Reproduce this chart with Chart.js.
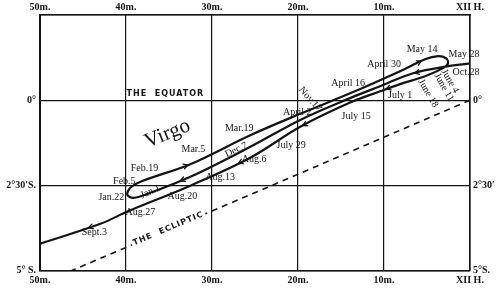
<!DOCTYPE html>
<html><head><meta charset="utf-8">
<script src="https://cdn.jsdelivr.net/npm/chart.js@4.4.1/dist/chart.umd.min.js"></script>
<style>html,body{margin:0;padding:0;background:#fff;}#wrap{width:500px;height:290px;}</style>
</head><body><div id="wrap"><canvas id="c" width="500" height="290"></canvas></div>
<script>
// Axis ticks (x: minutes of right ascension past XII h, increasing to the left; y: declination in degrees)
const raTicks = [0, 10, 20, 30, 40, 50];
const raTickLabels = ['XII H.', '10m.', '20m.', '30m.', '40m.', '50m.'];
const decTicks = [2.5, 0, -2.5, -5];
const decLeftLabels = ['', '0°', '2°30′S.', '5° S.'];
const decRightLabels = ['', '0°', '2°30′', '5°S.'];

// Planet path: Oct.28 -> Jan.22 (stationary) -> May 28 (stationary) -> Sept.3
const pathRA  = [0.00, 2.67, 6.62, 10.45, 13.94, 19.74, 25.55, 32.52, 37.17, 39.14,
                 39.84, 39.49, 38.10, 32.52, 25.55, 19.74, 13.94, 8.13, 5.23, 3.72, 2.79, 2.56, 3.14,
                 5.23, 8.13, 10.45, 13.94, 19.74, 25.55, 32.52, 39.84, 42.97, 49.94];
const pathDec = [1.08, 0.99, 0.79, 0.41, 0.06, -0.58, -1.37, -2.25, -2.72, -2.87,
                 -2.78, -2.57, -2.37, -1.88, -1.03, -0.40, 0.20, 0.85, 1.20, 1.29, 1.23, 1.08, 0.94,
                 0.70, 0.47, 0.26, -0.07, -0.78, -1.69, -2.51, -3.27, -3.63, -4.21];

// Direction arrows: segment index along the path and fraction along it
const arrowSeg = [1, 7, 12, 17, 24, 26, 28, 31];
const arrowFrac = [0.95, 0.25, 0.95, 0.85, 0.7, 0.95, 0.2, 0.2];

// The ecliptic
const eclipticRA  = [0, 23, 46.3];
const eclipticDec = [0, -2.5, -5];

// Date labels
const dateText = ['Mar.5', 'Mar.19', 'Feb.19', 'Feb.5', 'Jan.22', 'Jan.1', 'Aug.20', 'Aug.27', 'Sept.3',
                  'Aug.13', 'Aug.6', 'Dec.7', 'July 29', 'April 2', 'Nov.17', 'July 15', 'April 16',
                  'July 1', 'April 30', 'May 14', 'May 28', 'Oct.28', 'June 4', 'June 11', 'June 18'];
const dateRA  = [32.17, 26.83, 37.86, 40.19, 41.70, 37.17, 33.45, 38.33, 43.67,
                 29.04, 25.09, 27.18, 20.79, 20.09, 18.58, 13.24, 14.17,
                 8.13, 9.99, 5.57, 0.70, 0.46, 2.32, 3.02, 4.88];
const dateDec = [-1.43, -0.82, -1.99, -2.37, -2.84, -2.69, -2.81, -3.30, -3.89,
                 -2.28, -1.73, -1.46, -1.32, -0.35, 0.03, -0.47, 0.50,
                 0.15, 1.05, 1.49, 1.35, 0.82, 0.56, 0.38, 0.20];
const dateRot = [0, 0, 0, 0, 0, -24, 0, 0, 0,
                 0, 0, -25, 0, 0, 48, 0, 0,
                 0, 0, 0, 0, 0, 60, 60, 60];

const BLACK = '#141414';

const annot = {
  id: 'annot',
  afterDatasetsDraw(chart) {
    const ctx = chart.ctx, xs = chart.scales.x, ys = chart.scales.y;
    // arrows
    const meta = chart.getDatasetMeta(0);
    ctx.save();
    ctx.strokeStyle = BLACK; ctx.lineWidth = 1.3; ctx.lineCap = 'round';
    arrowSeg.forEach((s, k) => {
      const p0 = meta.data[s], p1 = meta.data[s + 1];
      const t = arrowFrac[k];
      const x = p0.x + (p1.x - p0.x) * t, y = p0.y + (p1.y - p0.y) * t;
      const a = Math.atan2(p1.y - p0.y, p1.x - p0.x);
      const L = 5, w = 0.5;
      ctx.beginPath();
      ctx.moveTo(x - L * Math.cos(a - w), y - L * Math.sin(a - w));
      ctx.lineTo(x, y);
      ctx.lineTo(x - L * Math.cos(a + w), y - L * Math.sin(a + w));
      ctx.stroke();
    });
    ctx.restore();

    // date labels
    ctx.save();
    ctx.fillStyle = BLACK;
    ctx.textAlign = 'center'; ctx.textBaseline = 'middle';
    ctx.font = '10px "Liberation Serif"';
    dateText.forEach((txt, i) => {
      const x = xs.getPixelForValue(dateRA[i]), y = ys.getPixelForValue(dateDec[i]);
      ctx.save(); ctx.translate(x, y); ctx.rotate(dateRot[i] * Math.PI / 180);
      ctx.fillText(txt, 0, 0); ctx.restore();
    });
    // Virgo
    ctx.save();
    ctx.translate(xs.getPixelForValue(35.19), ys.getPixelForValue(-0.99));
    ctx.rotate(-22 * Math.PI / 180);
    ctx.font = '21px "Liberation Serif"';
    ctx.fillText('Virgo', 0, 0);
    ctx.restore();
    // The Equator
    ctx.font = 'bold 8px "DejaVu Sans"';
    ctx.letterSpacing = '1px';
    ctx.fillText('THE  EQUATOR', xs.getPixelForValue(35.42), ys.getPixelForValue(0.175));
    // The Ecliptic
    ctx.save();
    ctx.translate(xs.getPixelForValue(35.08), ys.getPixelForValue(-3.77));
    ctx.rotate(-23 * Math.PI / 180);
    const w = ctx.measureText('THE  ECLIPTIC').width;
    ctx.fillStyle = '#fff'; ctx.fillRect(-w / 2 - 2, -5, w + 4, 10);
    ctx.fillStyle = BLACK;
    ctx.fillText('THE  ECLIPTIC', 0, 0);
    ctx.restore();
    ctx.restore();
  }
};

const tickFont = { family: 'Liberation Serif', size: 10, weight: 'bold' };
const setRA = s => { s.ticks = raTicks.map(v => ({ value: v })); };
const setDec = s => { s.ticks = decTicks.map(v => ({ value: v })); };

new Chart(document.getElementById('c'), {
  type: 'scatter',
  data: {
    datasets: [
      {
        label: 'Path',
        data: pathRA.map((r, i) => ({ x: r, y: pathDec[i] })),
        showLine: true, borderColor: BLACK, borderWidth: 2.2, pointRadius: 0, tension: 0.35,
        xAxisID: 'x', yAxisID: 'y'
      },
      {
        label: 'Ecliptic',
        data: eclipticRA.map((r, i) => ({ x: r, y: eclipticDec[i] })),
        showLine: true, borderColor: BLACK, borderWidth: 1.6, borderDash: [6, 5], pointRadius: 0,
        xAxisID: 'x', yAxisID: 'y'
      }
    ]
  },
  options: {
    responsive: false, animation: false, devicePixelRatio: 1,
    layout: { padding: 0 },
    plugins: { legend: { display: false }, tooltip: { enabled: false } },
    scales: {
      x: {
        type: 'linear', position: 'bottom', reverse: true, min: 0, max: 50,
        afterBuildTicks: setRA,
        afterFit: s => { s.height = 19.5; },
        ticks: { callback: v => raTickLabels[raTicks.indexOf(v)], color: BLACK, font: tickFont, padding: 4, maxRotation: 0 },
        grid: { color: BLACK, lineWidth: 1.2, drawTicks: false },
        border: { display: true, color: BLACK, width: 1.6 }
      },
      x2: {
        type: 'linear', position: 'top', reverse: true, min: 0, max: 50,
        afterBuildTicks: setRA,
        afterFit: s => { s.height = 15; },
        ticks: { callback: v => raTickLabels[raTicks.indexOf(v)], color: BLACK, font: tickFont, padding: 2, maxRotation: 0 },
        grid: { display: false, drawTicks: false },
        border: { display: true, color: BLACK, width: 1.6 }
      },
      y: {
        type: 'linear', position: 'left', min: -5, max: 2.5,
        afterBuildTicks: setDec,
        afterFit: s => { s.width = 40; },
        ticks: { callback: v => decLeftLabels[decTicks.indexOf(v)], color: BLACK, font: tickFont, padding: 4 },
        grid: { color: BLACK, lineWidth: 1.2, drawTicks: false },
        border: { display: true, color: BLACK, width: 2 }
      },
      y2: {
        type: 'linear', position: 'right', min: -5, max: 2.5,
        afterBuildTicks: setDec,
        afterFit: s => { s.width = 30; },
        ticks: { callback: v => decRightLabels[decTicks.indexOf(v)], color: BLACK, font: tickFont, padding: 3 },
        grid: { display: false, drawTicks: false },
        border: { display: true, color: BLACK, width: 1.6 }
      }
    }
  },
  plugins: [annot]
});
</script></body></html>
